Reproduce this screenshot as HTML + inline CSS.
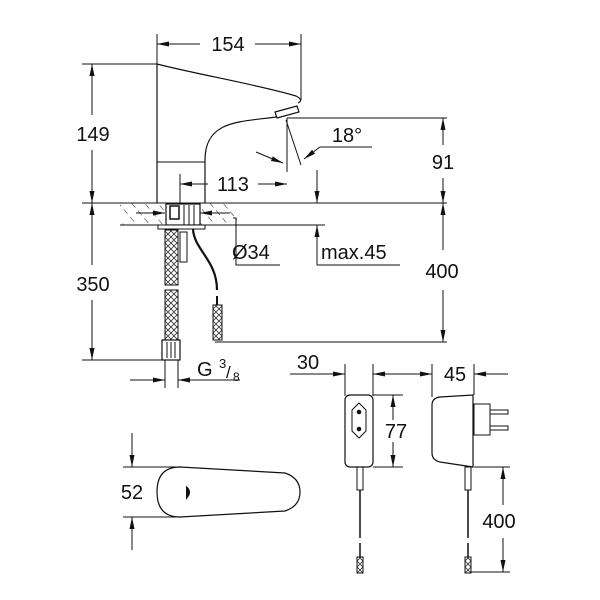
<!DOCTYPE html>
<html><head><meta charset="utf-8"><style>
html,body{margin:0;padding:0;background:#fff}
svg{display:block}
text{font-family:"Liberation Sans",sans-serif;font-size:20px;fill:#111}
</style></head><body>
<svg width="600" height="600" viewBox="0 0 600 600" xmlns="http://www.w3.org/2000/svg">
<defs>
<marker id="a" viewBox="0 0 12 6" refX="12" refY="3" markerWidth="12" markerHeight="6" orient="auto-start-reverse" markerUnits="userSpaceOnUse"><path d="M0,0.5 L12,3 L0,5.5z" fill="#111"/></marker>
<pattern id="h" width="10" height="10" patternUnits="userSpaceOnUse" patternTransform="rotate(-40)"><line x1="0" y1="0" x2="0" y2="6" stroke="#222" stroke-width="1"/></pattern>
<pattern id="x" width="6" height="6" patternUnits="userSpaceOnUse"><path d="M0,0L6,6M6,0L0,6" stroke="#333" stroke-width="0.8"/></pattern>
</defs>
<g fill="none" stroke="#111" stroke-width="1">
<line x1="157" y1="34" x2="157" y2="64"/><line x1="301" y1="34" x2="301" y2="100"/>
<line x1="82" y1="64" x2="157" y2="64"/>
<line x1="82" y1="203" x2="447" y2="203"/>
<line x1="287" y1="118" x2="447" y2="118"/>
<line x1="82" y1="360" x2="162" y2="360"/>
<line x1="215" y1="342" x2="447" y2="342"/>
<line x1="237" y1="225" x2="325" y2="225"/>
<line x1="180" y1="174" x2="180" y2="203"/>
<line x1="157" y1="44" x2="200" y2="44" marker-start="url(#a)"/><line x1="255" y1="44" x2="301" y2="44" marker-end="url(#a)"/>
<line x1="92" y1="64" x2="92" y2="115" marker-start="url(#a)"/><line x1="92" y1="150" x2="92" y2="203" marker-end="url(#a)"/>
<line x1="92" y1="203" x2="92" y2="265" marker-start="url(#a)"/><line x1="92" y1="300" x2="92" y2="360" marker-end="url(#a)"/>
<line x1="180" y1="184" x2="208" y2="184" marker-start="url(#a)"/><line x1="258" y1="184" x2="287" y2="184" marker-end="url(#a)"/>
<line x1="443" y1="118" x2="443" y2="145" marker-start="url(#a)"/><line x1="443" y1="178" x2="443" y2="203" marker-end="url(#a)"/>
<line x1="443" y1="203" x2="443" y2="250" marker-start="url(#a)"/><line x1="443" y1="290" x2="443" y2="342" marker-end="url(#a)"/>
<line x1="317" y1="170" x2="317" y2="203" marker-end="url(#a)"/>
<line x1="317" y1="265" x2="317" y2="225" marker-end="url(#a)"/>
<polyline points="317,265 400,265"/>
<polyline points="233,218 236,218 236,265 280,265"/>
<line x1="136" y1="213" x2="165" y2="213" marker-end="url(#a)"/>
<line x1="230" y1="213" x2="200" y2="213" marker-end="url(#a)"/>
<line x1="372" y1="147" x2="320" y2="147"/><line x1="320" y1="147" x2="304" y2="159" marker-end="url(#a)"/>
<line x1="287" y1="118" x2="287" y2="172"/>
<line x1="286" y1="120" x2="301" y2="165"/>
<path d="M256,152 Q270,158 283,163" marker-end="url(#a)"/>
<path d="M157,203 L157,64 C200,75 260,85 296,96 Q304,100 298,103" stroke-width="1.2"/>
<path d="M205,203 L205,160 C205,120 240,122 276,117" stroke-width="1.2"/>
<line x1="157" y1="162" x2="205" y2="162"/>
<path d="M275,112 L297,106 L299,112 L277,118 Z" stroke-width="1.2"/>
<rect x="120" y="203" width="117" height="22" fill="url(#h)" stroke="none"/>
<line x1="120" y1="225" x2="237" y2="225"/>
<rect x="166" y="204" width="34" height="21" fill="#fff" stroke-width="1.2"/>
<rect x="170" y="206" width="9" height="13" fill="#fff" stroke-width="1.5"/>
<line x1="184" y1="205" x2="184" y2="225"/><line x1="189" y1="205" x2="189" y2="225"/><line x1="194" y1="205" x2="194" y2="225"/>
<rect x="158" y="225" width="47" height="4" fill="#fff"/>
<rect x="165" y="230" width="13" height="55" fill="url(#x)"/>
<rect x="165" y="290" width="13" height="50" fill="url(#x)"/>
<rect x="162" y="340" width="18" height="20" fill="#fff" stroke-width="1.2"/>
<line x1="167" y1="342" x2="167" y2="358"/><line x1="171" y1="342" x2="171" y2="358"/><line x1="175" y1="342" x2="175" y2="358"/>
<line x1="165" y1="360" x2="165" y2="388"/><line x1="178" y1="360" x2="178" y2="388"/>
<rect x="180" y="232" width="7" height="30" fill="#fff"/>
<path d="M193,229 C194,250 217,260 217,290" stroke-width="2.2"/>
<line x1="217" y1="296" x2="217" y2="305" stroke-width="2"/>
<rect x="213" y="305" width="9" height="35" fill="url(#x)"/>
<line x1="130" y1="380" x2="165" y2="380" marker-end="url(#a)"/>
<line x1="240" y1="380" x2="178" y2="380" marker-end="url(#a)"/>
<line x1="123" y1="467" x2="178" y2="467"/><line x1="123" y1="517" x2="178" y2="517"/>
<line x1="132" y1="433" x2="132" y2="467" marker-end="url(#a)"/>
<line x1="132" y1="550" x2="132" y2="517" marker-end="url(#a)"/>
<path d="M180,467 L285,473 Q300,478 300,492 Q300,506 285,511 L180,517 Q157,517 157,492 Q157,467 180,467 Z" stroke-width="1.2"/>
<path d="M187,488 Q191,492 187,497 Z" fill="#111" stroke-width="2"/>
<line x1="345" y1="364" x2="345" y2="396"/><line x1="373" y1="364" x2="373" y2="396"/>
<line x1="290" y1="374" x2="345" y2="374" marker-end="url(#a)"/>
<line x1="405" y1="374" x2="373" y2="374" marker-end="url(#a)"/>
<rect x="345" y="395" width="28" height="72" rx="5" stroke-width="1.2"/>
<path d="M359,403 L366,410 L366,431 L359,438 L352,431 L352,410 Z"/>
<circle cx="359" cy="412" r="1.8" fill="#111"/><circle cx="359" cy="429" r="1.8" fill="#111"/>
<line x1="373" y1="395" x2="403" y2="395"/><line x1="373" y1="467" x2="403" y2="467"/>
<line x1="393" y1="420" x2="393" y2="395" marker-end="url(#a)"/>
<line x1="393" y1="442" x2="393" y2="467" marker-end="url(#a)"/>
<rect x="357" y="467" width="6" height="23"/>
<line x1="360" y1="490" x2="360" y2="538" stroke-width="1.5"/><line x1="360" y1="543" x2="360" y2="557" stroke-width="1.5"/>
<rect x="357" y="557" width="6" height="16" fill="url(#x)"/>
<line x1="432" y1="364" x2="432" y2="397"/><line x1="474" y1="364" x2="474" y2="395"/>
<line x1="373" y1="374" x2="432" y2="374" marker-end="url(#a)"/>
<line x1="508" y1="374" x2="474" y2="374" marker-end="url(#a)"/>
<path d="M440,397 L473,395 L473,467 L440,462 Q432,460 432,453 L432,405 Q432,398 440,397 Z" stroke-width="1.2"/>
<rect x="474" y="404" width="16" height="31"/>
<rect x="490" y="410" width="18" height="4"/><rect x="490" y="426" width="18" height="4"/>
<line x1="474" y1="467" x2="510" y2="467"/><line x1="470" y1="572" x2="510" y2="572"/>
<line x1="503" y1="505" x2="503" y2="467" marker-end="url(#a)"/>
<line x1="503" y1="538" x2="503" y2="572" marker-end="url(#a)"/>
<rect x="465" y="467" width="6" height="23"/>
<line x1="468" y1="490" x2="468" y2="538" stroke-width="1.5"/><line x1="468" y1="543" x2="468" y2="557" stroke-width="1.5"/>
<rect x="465" y="557" width="6" height="16" fill="url(#x)"/>
</g>
<text x="228" y="51" text-anchor="middle">154</text>
<text x="93" y="141" text-anchor="middle">149</text>
<text x="93" y="291" text-anchor="middle">350</text>
<text x="233" y="191" text-anchor="middle">113</text>
<text x="347" y="142" text-anchor="middle">18°</text>
<text x="443" y="169" text-anchor="middle">91</text>
<text x="442" y="278" text-anchor="middle">400</text>
<text x="232" y="259">Ø34</text>
<text x="321" y="259">max.45</text>
<text x="197" y="376">G</text>
<text x="219" y="368" style="font-size:13px">3</text>
<text x="226" y="378" style="font-size:17px">/</text>
<text x="233" y="381" style="font-size:12px">8</text>
<text x="132" y="499" text-anchor="middle">52</text>
<text x="308" y="369" text-anchor="middle">30</text>
<text x="455" y="381" text-anchor="middle">45</text>
<text x="396" y="438" text-anchor="middle">77</text>
<text x="499" y="528" text-anchor="middle">400</text>
</svg>
</body></html>
